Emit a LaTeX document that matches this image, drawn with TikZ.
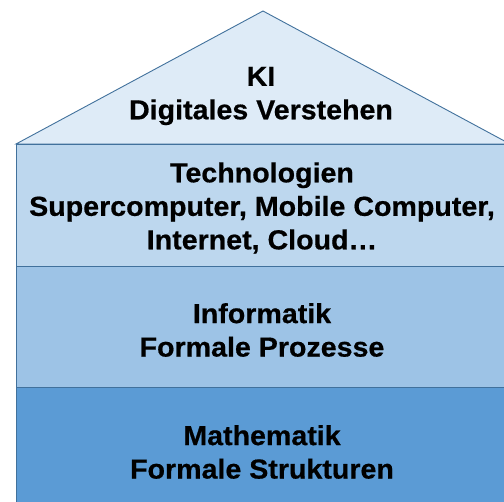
\documentclass[tikz,border=0pt]{standalone}
\usepackage{fontspec}
\setmainfont[FakeStretch=1.04, BoldFeatures={FakeBold=0.6}]{Liberation Sans}
\definecolor{roofc}{HTML}{DEEBF7}
\definecolor{layA}{HTML}{BDD7EE}
\definecolor{layB}{HTML}{9DC3E6}
\definecolor{layC}{HTML}{5B9BD5}
\definecolor{edgec}{HTML}{41719C}
\tikzset{
  part/.style={draw=edgec, line width=0.9pt},
  lbl/.style={align=center, font=\bfseries\fontsize{27.5}{33.5}\selectfont, text=black, inner sep=0pt}
}
\begin{document}
\begin{tikzpicture}[x=1pt,y=-1pt]
\useasboundingbox (0,0) rectangle (504,502);
\clip (0,0) rectangle (504,502);
\fill[white] (0,0) rectangle (504,502);
\coordinate (rl) at (16,144);
\coordinate (ra) at (263,11);
\coordinate (rr) at (510,144);
\filldraw[part, fill=roofc] (rl) -- (ra) -- (rr) -- cycle;
\filldraw[part, fill=layA] (16,144) rectangle (520,266);
\filldraw[part, fill=layB] (16,266) rectangle (520,387);
\filldraw[part, fill=layC] (16,387) rectangle (520,520);
\node[lbl] (ki) at (261,96) {KI\\Digitales Verstehen};
\node[lbl] (tech) at (262,208) {Technologien\\Supercomputer, Mobile Computer,\\Internet, Cloud…};
\node[lbl] (inf) at (262,330) {Informatik\\Formale Prozesse};
\node[lbl] (math) at (262,452) {Mathematik\\Formale Strukturen};
\end{tikzpicture}
\end{document}
